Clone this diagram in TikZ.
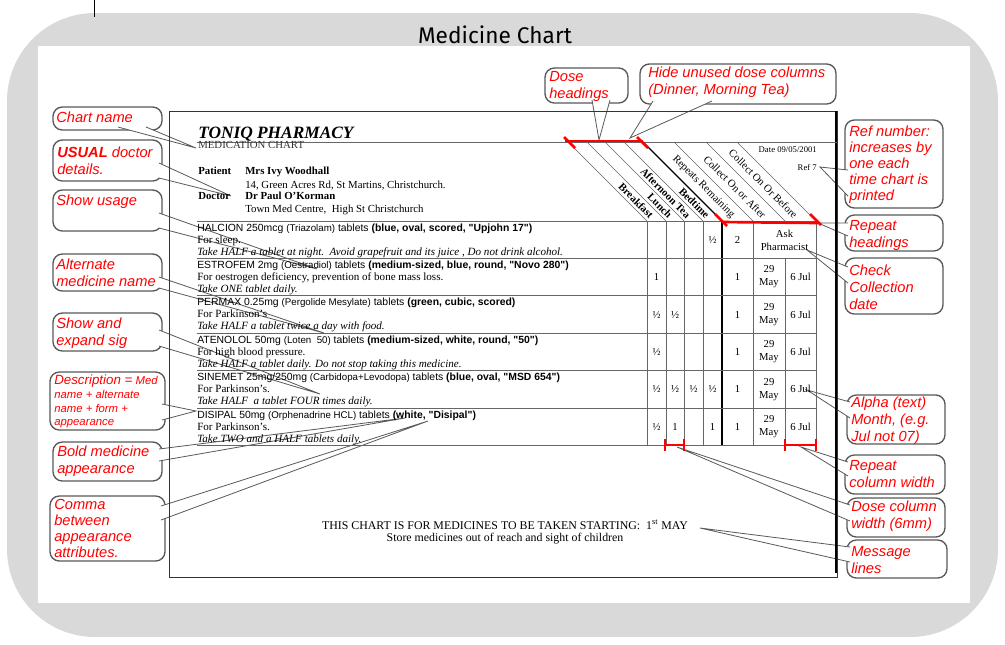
\documentclass[tikz,border=0pt]{standalone}
\usepackage{fontspec}
\setmainfont{Liberation Serif}
\newfontfamily\arialf{Liberation Sans}
\newfontfamily\titlef{Fira Sans}
\usetikzlibrary{fit}
\definecolor{bggray}{HTML}{D9D9D9}
\definecolor{cgray}{HTML}{595959}
\begin{document}
\begin{tikzpicture}[x=0.75pt,y=-0.75pt,
  cbox/.style={draw=cgray, line width=1pt, fill=white, rounded corners=7pt, inner sep=0pt},
  ctail/.style={draw=cgray, line width=0.6pt, fill=white},
  ctext/.style={anchor=north west, inner sep=0pt, align=left, text=red, font=\arialf\itshape\fontsize{11}{12.75}\selectfont},
  mtext/.style={anchor=base west, inner sep=0pt, font=\arialf\fontsize{7.8}{9}\selectfont},
  stext/.style={anchor=base west, inner sep=0pt, font=\fontsize{8.3}{9}\selectfont},
  itext/.style={anchor=base west, inner sep=0pt, font=\fontsize{8.3}{9}\selectfont\itshape},
  htext/.style={anchor=base west, inner sep=0pt, font=\fontsize{8.1}{9}\selectfont},
  hbold/.style={anchor=base west, inner sep=0pt, font=\fontsize{8.1}{9}\selectfont\bfseries},
  val/.style={inner sep=0pt, align=center, font=\fontsize{8}{9.75}\selectfont},
  colh/.style={rotate=-45, anchor=east, inner sep=0pt, font=\fontsize{8}{9}\selectfont},
  colhb/.style={colh, font=\fontsize{8}{9}\selectfont\bfseries},
  gridl/.style={draw=black!60, line width=0.5pt},
  redm/.style={draw=red, line width=2pt},
  msgt/.style={inner sep=0pt, font=\fontsize{8.9}{10}\selectfont},
]
\useasboundingbox (0,0) rectangle (1005,644);
% background
\fill[bggray, rounded corners=66pt] (7,13) rectangle (998,637);
\fill[white] (38,46) rectangle (970,603);
\draw[line width=0.6pt] (94,0) -- (94,17);
\node[font=\titlef\fontsize{17}{20}\selectfont] (title) at (495,35) {Medicine Chart};

% callout boxes
\node[cbox, fit={(53,107) (162,130)}] (bcn) {};
\node[cbox, fit={(53,140) (162,181)}] (bud) {};
\node[cbox, fit={(53,190) (162,231)}] (bsu) {};
\node[cbox, fit={(53,254) (162,291)}] (bam) {};
\node[cbox, fit={(53,313) (162,351)}] (bse) {};
\node[cbox, fit={(50,372) (165,430)}] (bde) {};
\node[cbox, fit={(53,442) (162,481)}] (bbm) {};
\node[cbox, fit={(50,496) (165,561)}] (bca) {};
\node[cbox, fit={(545,68) (628,103)}] (bdh) {};
\node[cbox, fit={(640,64) (836,104)}] (bhu) {};
\node[cbox, fit={(845,120) (943,208)}] (brn) {};
\node[cbox, fit={(845,215) (943,251)}] (brh) {};
\node[cbox, fit={(845,258) (943,314)}] (bcc) {};
\node[cbox, fit={(847,395) (945,444)}] (bal) {};
\node[cbox, fit={(845,455) (945,494)}] (brw) {};
\node[cbox, fit={(847,498) (945,537)}] (bdc) {};
\node[cbox, fit={(847,540) (947,578)}] (bml) {};

% tail tips
\coordinate (tcn) at (196,148);
\coordinate (tud) at (231,196);
\coordinate (tsu) at (317,269);
\coordinate (tam) at (324,333);
\coordinate (tse) at (320,394);
\coordinate (tde) at (196,411);
\coordinate (tbm) at (405,418);
\coordinate (tca) at (428,421);
\coordinate (tdh) at (599,140);
\coordinate (thu) at (630,138);
\coordinate (trn) at (820,167);
\coordinate (trh) at (818,223);
\coordinate (tcc) at (807,250);
\coordinate (tal) at (807,390);
\coordinate (trw) at (801,447);
\coordinate (tdc) at (677,447);
\coordinate (tml) at (700,528);

% tails
\filldraw[ctail] (118,127) -- (tcn) -- (146,127);
\filldraw[ctail] (159,163) -- (tud) -- (159,178);
\filldraw[ctail] (159,213) -- (tsu) -- (159,228);
\filldraw[ctail] (159,277) -- (tam) -- (159,288);
\filldraw[ctail] (159,330) -- (tse) -- (159,346);
\filldraw[ctail] (162,404) -- (tde) -- (162,420);
\filldraw[ctail] (159,449) -- (tbm) -- (159,461);
\filldraw[ctail] (161,506) -- (tca) -- (161,520);
\filldraw[ctail] (592,100) -- (tdh) -- (610,100);
\filldraw[ctail] (653,101) -- (thu) -- (712,101);
\filldraw[ctail] (848,170) -- (trn) -- (848,196);
\filldraw[ctail] (848,223) -- (trh) -- (848,236);
\filldraw[ctail] (848,267) -- (tcc) -- (848,283);
\filldraw[ctail] (850,402) -- (tal) -- (850,418);
\filldraw[ctail] (848,462) -- (trw) -- (848,476);
\filldraw[ctail] (850,505) -- (tdc) -- (850,521);
\filldraw[ctail] (850,547) -- (tml) -- (850,562);

% callout texts
\node[ctext] (xcn) at (56,112) {Chart name};
\node[ctext] (xud) at (57,147) {\textbf{USUAL} doctor\\details.};
\node[ctext] (xsu) at (56,195) {Show usage};
\node[ctext] (xam) at (56,259) {Alternate\\medicine name};
\node[ctext] (xse) at (56,318) {Show and\\expand sig};
\node[ctext, font=\arialf\itshape\fontsize{8.5}{10.2}\selectfont] (xde) at (54,375) {{\fontsize{10}{10.2}\selectfont Description =} Med\\name + alternate\\name + form +\\appearance};
\node[ctext] (xbm) at (57,446) {Bold medicine\\appearance};
\node[ctext, font=\arialf\itshape\fontsize{11}{12}\selectfont] (xca) at (54,499) {Comma\\between\\appearance\\attributes.};
\node[ctext] (xdh) at (549,71) {Dose\\headings};
\node[ctext] (xhu) at (648,67) {Hide unused dose columns\\(Dinner, Morning Tea)};
\node[ctext, font=\arialf\itshape\fontsize{11}{12}\selectfont] (xrn) at (849,126) {Ref number:\\increases by\\one each\\time chart is\\printed};
\node[ctext] (xrh) at (849,220) {Repeat\\headings};
\node[ctext] (xcc) at (849,265) {Check\\Collection\\date};
\node[ctext] (xal) at (851,397) {Alpha (text)\\Month, (e.g.\\Jul not 07)};
\node[ctext] (xrw) at (849,460) {Repeat\\column width};
\node[ctext] (xdc) at (851,501) {Dose column\\width (6mm)};
\node[ctext] (xml) at (851,546) {Message\\lines};

% chart frame
\draw[line width=0.6pt, draw=black!80] (169,111) rectangle (837,577);
\draw[line width=1.6pt] (836,111) -- (836,573);
\draw[gridl] (197,142) -- (837,142);

% header
\node[anchor=base west, inner sep=0pt, font=\fontsize{13}{15}\selectfont\bfseries\itshape] (pharm) at (198,138) {TONIQ PHARMACY};
\node[htext, text=black!80] (mchart) at (198,148) {MEDICATION CHART};
\node[hbold] (pat) at (198,174) {Patient};
\node[hbold] (patn) at (245,174) {Mrs Ivy Woodhall};
\node[htext] (pata) at (245,188) {14, Green Acres Rd, St Martins, Christchurch.};
\node[hbold] (doc) at (198,199) {Doctor};
\node[hbold] (docn) at (245,199) {Dr Paul O'Korman};
\node[htext] (doca) at (245,212) {Town Med Centre,\ \ High St Christchurch};
\node[anchor=base east, inner sep=0pt, font=\fontsize{6.5}{8}\selectfont] (date) at (817,152) {Date 09/05/2001};
\node[anchor=base east, inner sep=0pt, font=\fontsize{6.5}{8}\selectfont] (ref) at (817,170) {Ref 7};

% column grid
\foreach \x in {647,666,684,703,753,816} \draw[gridl] (\x,221) -- (\x,445);
\draw[gridl] (785,258.4) -- (785,445);
\draw[line width=1.2pt] (722,221) -- (722,445);
\foreach \x in {647,666,684,703,753,785,816} \draw[gridl] ({\x-79},142) -- (\x,221);
\draw[line width=1pt] (643,142) -- (722,221);
\foreach \y in {221,258.4,295.8,333.2,370.6,408,445} \draw[gridl] (197,\y) -- (816,\y);

% column headings
\node[colhb] (hbr) at (652,216.5) {Breakfast};
\node[colhb] (hlu) at (670.5,216.5) {Lunch};
\node[colhb] (haf) at (689,216.5) {Afternoon Tea};
\node[colhb] (hbe) at (708,216.5) {Bedtime};
\node[colh] (hre) at (733,216.5) {Repeats Remaining};
\node[colh] (hca) at (764.5,216.5) {Collect On or After};
\node[colh] (hcb) at (796,216.5) {Collect On Or Before};

% medicine rows
\node[mtext] (m1a) at (197,231) {HALCION 250mcg {\fontsize{7.3}{9}\selectfont(Triazolam)} tablets \textbf{(blue, oval, scored, "Upjohn 17")}};
\node[stext] (m1b) at (197,243) {For sleep.};
\node[itext] (m1c) at (197,255) {Take HALF a tablet at night.\ \ Avoid grapefruit and its juice , Do not drink alcohol.};

\node[mtext] (m2a) at (197,268.4) {ESTROFEM 2mg {\fontsize{7.3}{9}\selectfont(Oestradiol)} tablets \textbf{(medium-sized, blue, round, "Novo 280")}};
\node[stext] (m2b) at (197,280.4) {For oestrogen deficiency, prevention of bone mass loss.};
\node[itext] (m2c) at (197,292.4) {Take ONE tablet daily.};

\node[mtext] (m3a) at (197,305.8) {PERMAX 0.25mg {\fontsize{7.3}{9}\selectfont(Pergolide Mesylate)} tablets \textbf{(green, cubic, scored)}};
\node[stext] (m3b) at (197,317.8) {For Parkinson's};
\node[itext] (m3c) at (197,329.8) {Take HALF a tablet twice a day with food.};

\node[mtext] (m4a) at (197,343.2) {ATENOLOL 50mg {\fontsize{7.3}{9}\selectfont(Loten\ \ 50)} tablets \textbf{(medium-sized, white, round, "50")}};
\node[stext] (m4b) at (197,355.2) {For high blood pressure.};
\node[itext] (m4c) at (197,367.2) {Take HALF a tablet daily. Do not stop taking this medicine.};

\node[mtext] (m5a) at (197,380.6) {SINEMET 25mg/250mg {\fontsize{7.3}{9}\selectfont(Carbidopa+Levodopa)} tablets \textbf{(blue, oval, "MSD 654")}};
\node[stext] (m5b) at (197,392.6) {For Parkinson's.};
\node[itext] (m5c) at (197,404.6) {Take HALF\ \ a tablet FOUR times daily.};

\node[mtext] (m6a) at (197,418) {DISIPAL 50mg {\fontsize{7.3}{9}\selectfont(Orphenadrine HCL)} tablets \textbf{(white, "Disipal")}};
\node[stext] (m6b) at (197,430) {For Parkinson's.};
\node[itext] (m6c) at (197,442) {Take TWO and a HALF tablets daily.};

% dose values
\node[val] (d1be) at (712.5,239.7) {½};
\node[val] (d1re) at (737.5,239.7) {2};
\node[val] (d1ask) at (784.5,240) {Ask\\Pharmacist};
\node[val] (d2br) at (656.5,277.1) {1};
\node[val] (d3br) at (656.5,314.5) {½};
\node[val] (d3lu) at (675,314.5) {½};
\node[val] (d4br) at (656.5,351.9) {½};
\node[val] (d5br) at (656.5,389.3) {½};
\node[val] (d5lu) at (675,389.3) {½};
\node[val] (d5af) at (693.5,389.3) {½};
\node[val] (d5be) at (712.5,389.3) {½};
\node[val] (d6br) at (656.5,426.7) {½};
\node[val] (d6lu) at (675,426.7) {1};
\node[val] (d6be) at (712.5,426.7) {1};
\foreach \c [count=\i] in {277.1,314.5,351.9,389.3,426.7} {
  \node[val] (rep\i) at (737.5,\c) {1};
  \node[val] (aft\i) at (769,\c) {29\\May};
  \node[val] (bef\i) at (800.5,\c) {6 Jul};
}

% red markers
\draw[redm] (565,141) -- (643,141);
\draw[redm] (564,137) -- (575,148);
\draw[redm] (637,137) -- (648,148);
\draw[redm] (722,222) -- (818,223);
\draw[redm] (715,214) -- (727,226);
\draw[redm] (810,214) -- (821,225);
\draw[redm] (665,445) -- (684,445);
\draw[redm] (665,439) -- (665,451);
\draw[redm] (684,439) -- (684,451);
\draw[redm] (785,445) -- (816,445);
\draw[redm] (785,439) -- (785,451);
\draw[redm] (816,439) -- (816,451);

% messages
\node[msgt] (msg1) at (505,525) {THIS CHART IS FOR MEDICINES TO BE TAKEN STARTING:\ \ 1\textsuperscript{st} MAY};
\node[msgt] (msg2) at (505,539) {Store medicines out of reach and sight of children};
\end{tikzpicture}
\end{document}
